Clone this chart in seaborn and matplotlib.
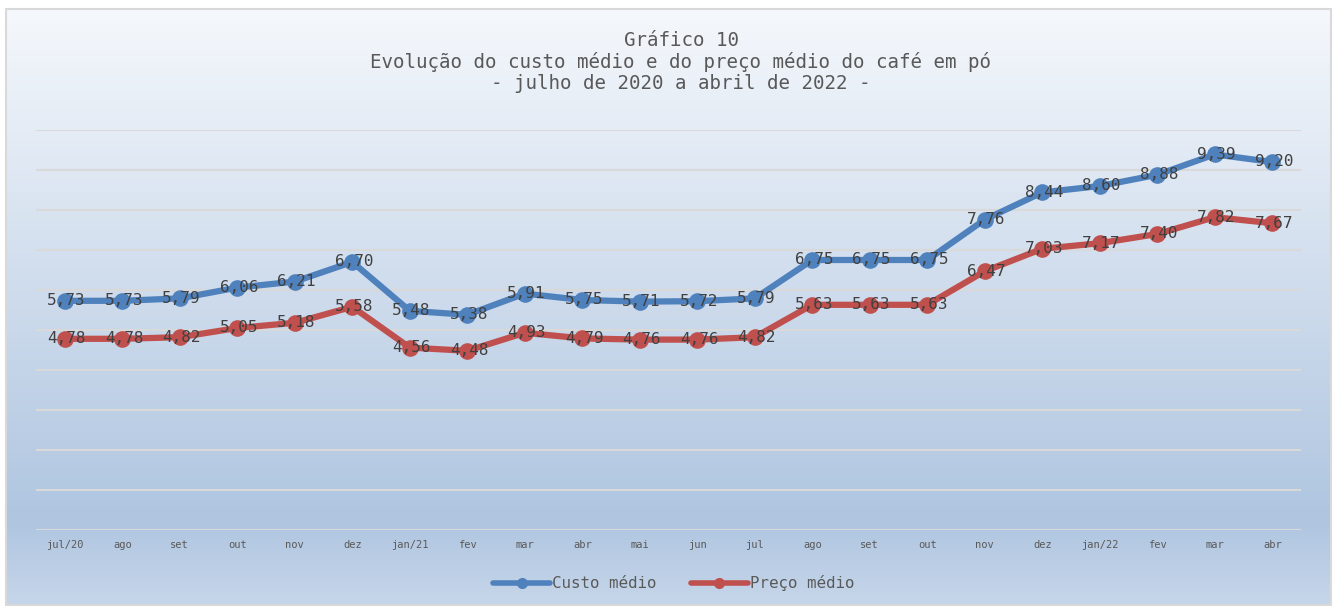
import numpy as np
import pandas as pd
import seaborn as sns
import matplotlib.pyplot as plt
from matplotlib.colors import LinearSegmentedColormap
from matplotlib.patches import Rectangle
from matplotlib.lines import Line2D

meses = ["jul/20", "ago", "set", "out", "nov", "dez", "jan/21", "fev", "mar", "abr", "mai",
         "jun", "jul", "ago", "set", "out", "nov", "dez", "jan/22", "fev", "mar", "abr"]
custo = [5.73, 5.73, 5.79, 6.06, 6.21, 6.70, 5.48, 5.38, 5.91, 5.75, 5.71,
         5.72, 5.79, 6.75, 6.75, 6.75, 7.76, 8.44, 8.60, 8.88, 9.39, 9.20]
preco = [4.78, 4.78, 4.82, 5.05, 5.18, 5.58, 4.56, 4.48, 4.93, 4.79, 4.76,
         4.76, 4.82, 5.63, 5.63, 5.63, 6.47, 7.03, 7.17, 7.40, 7.82, 7.67]
series = ["Custo médio", "Preço médio"]
cores = ["#4F81BD", "#C0504D"]

sns.set_style("white")
plt.rcParams["font.family"] = ["DejaVu Sans Mono", "DejaVu Sans"]
txt = "#404040"

fig = plt.figure(figsize=(13.35, 6.10), dpi=100)

# gradient background inside a grey frame
bg = fig.add_axes([0, 0, 1, 1], zorder=-10)
bg.set_axis_off()
cmap = LinearSegmentedColormap.from_list(
    "bg", [(0, "#C6D6EA"), (0.14, "#AFC5E0"), (1, "#F5F8FC")])
grad = np.linspace(0, 1, 256).reshape(-1, 1)
bg.imshow(grad, aspect="auto", cmap=cmap, origin="lower",
          extent=[6 / 1335, 1331 / 1335, 5 / 610, 601 / 610])
bg.set_xlim(0, 1)
bg.set_ylim(0, 1)
bg.add_patch(Rectangle((6 / 1335, 5 / 610), 1325 / 1335, 596 / 610,
                       fill=False, edgecolor="#D9D9D9", linewidth=1.5))

ax = fig.add_axes([36 / 1335, 80 / 610, 1265 / 1335, 400 / 610])
ax.patch.set_alpha(0)

df = pd.DataFrame({"mes": list(range(len(meses))) * 2,
                   "valor": custo + preco,
                   "serie": [series[0]] * len(meses) + [series[1]] * len(meses)})
sns.lineplot(data=df, x="mes", y="valor", hue="serie", palette=cores,
             marker="o", markersize=12, markeredgewidth=0, linewidth=4.5,
             ax=ax, zorder=3, legend=False)

for vals in (custo, preco):
    for i, v in enumerate(vals):
        ax.text(i + 0.03, v, f"{v:.2f}".replace(".", ","), ha="center", va="center",
                fontsize=11.5, color=txt, zorder=5)

ax.set_xlim(-0.5, len(meses) - 0.5)
ax.set_ylim(0, 10)
ax.set_yticks(range(0, 11))
ax.yaxis.grid(True, color="#D9D9D9", linewidth=1.5)
ax.set_axisbelow(True)
ax.set_yticklabels([])
ax.tick_params(axis="y", length=0)
ax.set_xticks(range(len(meses)))
ax.set_xticklabels(meses, fontsize=7.5, color="#595959")
ax.tick_params(axis="x", length=0, pad=7)
ax.set_xlabel("")
ax.set_ylabel("")
for s in ax.spines.values():
    s.set_visible(False)

fig.text(681 / 1335, 1 - 62 / 610, "Gráfico 10\nEvolução do custo médio e do preço médio do café em pó\n- julho de 2020 a abril de 2022 -",
         ha="center", va="center", fontsize=13.8, color="#595959", linespacing=1.12)

handles = [Line2D([], [], color=c, linewidth=4, marker="o", markersize=8,
                  markeredgewidth=0) for c in cores]
ax.legend(handles, series, loc="center", bbox_to_anchor=(0.504, -0.133), ncol=2, frameon=False,
          fontsize=11.4, labelcolor="#595959", handlelength=3.6, columnspacing=2.2,
          handletextpad=0.1)

fig.savefig("out.png", dpi=100)
